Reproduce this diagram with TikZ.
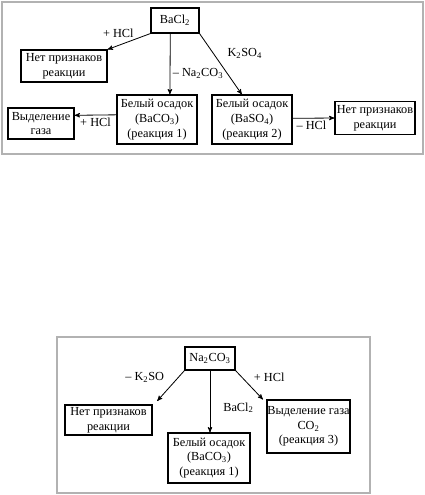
\documentclass[tikz,border=0pt]{standalone}
\usepackage{fontspec}
\setmainfont{Liberation Serif}
\usetikzlibrary{arrows,shapes}
\tikzstyle{frame} = [draw=black!30,line width=1pt]
\tikzstyle{conn} = [draw,line width=0.7pt]

\begin{document}
\begin{tikzpicture}[->,>=stealth',x=0.03cm,y=-0.03cm,
  box/.style={draw,line width=0.9pt,align=center,inner sep=0pt,font=\fontsize{10.5}{12.5}\selectfont},
  lbl/.style={font=\fontsize{10.5}{12.5}\selectfont,inner sep=1pt}]

  \useasboundingbox (0,0) rectangle (425,495);
  \draw[frame,-] (2,2) rectangle (423,154);
  \draw[frame,-] (57,337) rectangle (370,493);

  % BaCl2 scheme
  \node[box,minimum width=1.44cm,minimum height=0.75cm] (bacl) at (175,20.5) {BaCl\textsubscript{2}};
  \node[box,minimum width=2.58cm,minimum height=0.96cm] (nr1) at (64,66) {Нет признаков\\реакции};
  \node[box,minimum width=2.40cm,minimum height=1.47cm] (baco) at (157,119.5) {Белый осадок\\(BaCO\textsubscript{3})\\(реакция 1)};
  \node[box,minimum width=1.98cm,minimum height=0.93cm] (gas1) at (41,123.5) {Выделение\\газа};
  \node[box,minimum width=2.40cm,minimum height=1.47cm] (baso) at (252,119.5) {Белый осадок\\(BaSO\textsubscript{4})\\(реакция 2)};
  \node[box,minimum width=2.40cm,minimum height=0.99cm] (nr2) at (375,118) {Нет признаков\\реакции};

  \path
    (bacl.south west) edge[conn] node[lbl,pos=0.75,above=5pt] {+ HCl} (nr1.north east)
    ([xshift=-4pt]bacl.south) edge[conn] node[lbl,pos=0.66,right=1pt] {– Na\textsubscript{2}CO\textsubscript{3}} ([xshift=11pt]baco.north)
    (bacl.south east) edge[conn] node[lbl,pos=0.32,right=11pt] {K\textsubscript{2}SO\textsubscript{4}} (baso.112)
    ([yshift=4pt]baco.west) edge[conn] node[lbl,below=1pt] {+ HCl} ([yshift=7pt]gas1.east)
    ([yshift=1pt]baso.east) edge[conn] node[lbl,pos=0.45,below=1pt] {– HCl} (nr2.west);

  % Na2CO3 scheme
  \node[box,minimum width=1.50cm,minimum height=0.69cm] (na) at (210,358.5) {Na\textsubscript{2}CO\textsubscript{3}};
  \node[box,minimum width=2.61cm,minimum height=0.90cm] (nr3) at (108.5,420) {Нет признаков\\реакции};
  \node[box,minimum width=2.46cm,minimum height=1.50cm] (baco2) at (209,458) {Белый осадок\\(BaCO\textsubscript{3})\\(реакция 1)};
  \node[box,minimum width=2.49cm,minimum height=1.59cm] (gas2) at (308.5,426.5) {Выделение газа\\CO\textsubscript{2}\\(реакция 3)};

  \path
    (na.south west) edge[conn] node[lbl,pos=0.22,left=11pt] {– K\textsubscript{2}SO} ([xshift=4pt,yshift=3pt]nr3.north east)
    (na.south) edge[conn] node[lbl,pos=0.6,right=10pt] {BaCl\textsubscript{2}} (na.south |- baco2.north)
    (na.south east) edge[conn] node[lbl,pos=0.23,right=9pt] {+ HCl} ([xshift=-3pt]gas2.north west);

\end{tikzpicture}
\end{document}
